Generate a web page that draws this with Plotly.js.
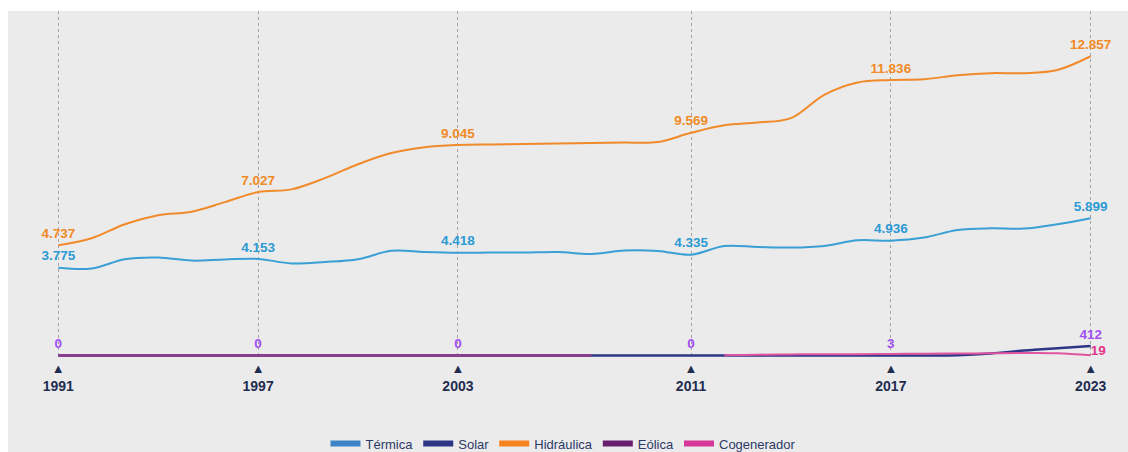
<!DOCTYPE html>
<html>
<head>
<meta charset="utf-8">
<script src="https://cdn.plot.ly/plotly-3.0.1.min.js"></script>
<style>
  html, body { margin: 0; padding: 0; background: #ffffff; width: 1128px; height: 452px; overflow: hidden; }
  #chart { position: absolute; left: 8px; top: 11px; width: 1120px; height: 441px; }
</style>
</head>
<body>
<div id="chart"></div>
<script>
// Categories (years shown on the chart)
const years = ['1991','1992','1993','1994','1995','1996','1997','1998','1999','2000','2001','2002','2003',
               '2004','2005','2006','2008','2009','2010','2011','2012','2013','2014','2015','2016','2017',
               '2018','2019','2020','2021','2022','2023'];
const labelYears = ['1991','1997','2003','2011','2017','2023'];

// Series values
const termica = [3775, 3740, 4140, 4210, 4080, 4130, 4153, 3960, 4020, 4140, 4500, 4450, 4418,
                 4424, 4424, 4450, 4365, 4510, 4495, 4335, 4708, 4665, 4639, 4708, 4953, 4936,
                 5069, 5395, 5468, 5455, 5640, 5899];
const hidraulica = [4737, 5040, 5640, 6030, 6180, 6590, 7027, 7140, 7620, 8220, 8700, 8950, 9045,
                    9070, 9090, 9110, 9130, 9150, 9170, 9569, 9890, 10010, 10200, 11200, 11730, 11836,
                    11870, 12040, 12130, 12130, 12270, 12857];
const solar = [0, 0, 0, 0, 0, 0, 0, 0, 0, 0, 0, 0, 0,
               0, 0, 0, 0, 0, 0, 0, 0, 0, 0, 1, 2, 3,
               5, 15, 90, 220, 320, 412];
const eolica = [0, 0, 0, 0, 0, 0, 0, 0, 0, 0, 0, 0, 0,
                0, 0, 0, 0, null, null, null, null, null, null, null, null, null,
                null, null, null, null, null, null];
const cogenerador = [null, null, null, null, null, null, null, null, null, null, null, null, null,
                     null, null, null, null, null, null, null, 20, 40, 50, 60, 60, 70,
                     80, 90, 100, 110, 100, 19];

const seriesNames = ['Térmica', 'Solar', 'Hidráulica', 'Eólica', 'Cogenerador'];
const legendColors = ['#3d85c6', '#2e3586', '#f7841f', '#6a1e6e', '#d6399a'];

function fmt(n) { return String(n).replace(/\B(?=(\d{3})+(?!\d))/g, '.'); }
function labels(arr, which) {
  return years.map((y, i) => (which.indexOf(y) >= 0 && arr[i] !== null) ? fmt(arr[i]) : '');
}
const labelFont = (c) => ({ family: 'Liberation Sans, Arial, sans-serif', size: 13.5, color: c, weight: 'bold' });

const Y0 = -60, Y1 = 14800, PLOT_H = 346;
const lift = 4 * (Y1 - Y0) / PLOT_H;   // labels sit a few px higher above their points

function lineTrace(y, color, width) {
  return { x: years, y: y, type: 'scatter', mode: 'lines',
    line: { color: color, width: width, shape: 'spline', smoothing: 1 }, showlegend: false, hoverinfo: 'skip' };
}
function textTrace(y, which, color, pos, axis) {
  return { x: years, y: y, type: 'scatter', mode: 'text', yaxis: axis,
    text: labels(y, which), textposition: pos, textfont: labelFont(color),
    cliponaxis: false, showlegend: false, hoverinfo: 'skip' };
}

const traces = [
  lineTrace(termica, '#3a9fd4', 2),
  lineTrace(solar, '#2e3586', 2.5),
  lineTrace(hidraulica, '#f08a2a', 2),
  lineTrace(eolica, '#8a3f8e', 3),
  lineTrace(cogenerador, '#e0559f', 2),
  textTrace(termica, labelYears, '#2b9ad4', 'top center', 'y2'),
  textTrace(hidraulica, labelYears, '#f08a24', 'top center', 'y2'),
  textTrace(solar, labelYears, '#a24ff0', 'top center', 'y2'),
  textTrace(cogenerador, ['2023'], '#e3338d', 'middle right', 'y2')
];

// legend entries with thick symbols
seriesNames.forEach((n, k) => {
  traces.push({ x: [null], y: [null], type: 'scatter', mode: 'lines', name: n,
    line: { color: legendColors[k], width: 6 }, hoverinfo: 'skip' });
});

const layout = {
  width: 1120, height: 441,
  margin: { l: 17, r: 4, t: 0, b: 441 - PLOT_H, autoexpand: false },
  paper_bgcolor: '#ebebeb',
  plot_bgcolor: '#ebebeb',
  font: { family: 'Liberation Sans, Arial, sans-serif', color: '#1f2d50' },
  xaxis: {
    type: 'category', range: [-1, 32],
    tickmode: 'array', tickvals: labelYears,
    ticktext: labelYears.map(y => '<span style="font-size:13px">▲</span><br>' + y),
    tickfont: { size: 14, color: '#1f2d50', weight: 'bold' },
    showgrid: true, gridcolor: '#a3a3a3', gridwidth: 1, griddash: '3px,3px',
    showline: false, zeroline: false, ticks: '', ticklabelstandoff: 1, automargin: false
  },
  yaxis: { range: [Y0, Y1], showgrid: false, zeroline: false, showticklabels: false, showline: false, ticks: '' },
  yaxis2: { range: [Y0 - lift, Y1 - lift], overlaying: 'y', visible: false },
  showlegend: true,
  legend: {
    orientation: 'h', x: 0.49, xanchor: 'center', y: -0.25, yanchor: 'middle',
    font: { size: 13, color: '#2b3a67' }, bgcolor: 'rgba(0,0,0,0)', itemwidth: 30
  }
};

Plotly.newPlot('chart', traces, layout, { displayModeBar: false, staticPlot: true });
</script>
</body>
</html>
